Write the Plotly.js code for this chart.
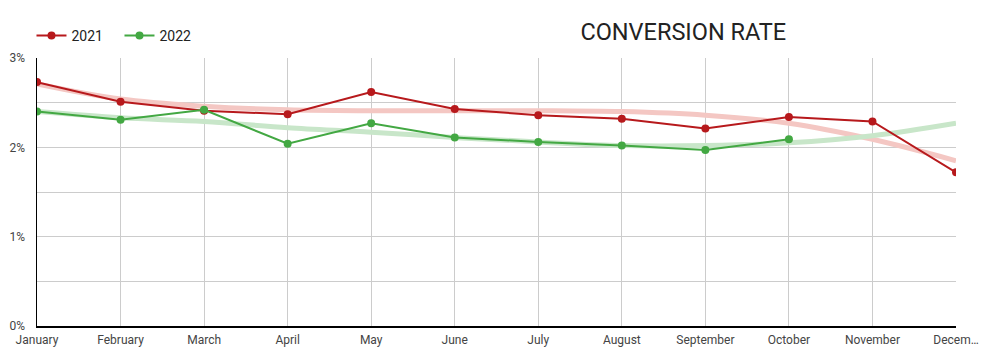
<!DOCTYPE html>
<html><head><meta charset="utf-8">
<script src="https://cdn.plot.ly/plotly-3.0.1.min.js"></script>
<style>body{margin:0;background:#fff}#c{width:986px;height:354px}</style>
</head><body><div id="c"></div>
<script>
const months = ["January","February","March","April","May","June","July","August","September","October","November","December"];
const monthLabels = ["January","February","March","April","May","June","July","August","September","October","November","Decem…"];
const rate2021 = [0.0273,0.0251,0.0241,0.0237,0.0262,0.0243,0.0236,0.0232,0.0221,0.0234,0.0229,0.0172];
const rate2022 = [0.0240,0.0231,0.0242,0.0204,0.0227,0.0211,0.0206,0.0202,0.0197,0.0209,null,null];
const trend2021 = [0.0271,0.0254,0.0246,0.0242,0.0241,0.0241,0.0241,0.0240,0.0236,0.0227,0.0209,0.0185];
const trend2022 = [0.0240,0.0233,0.0229,0.0222,0.0217,0.0211,0.0206,0.0202,0.0202,0.0205,0.0213,0.0227];
const yTicks = [0,0.01,0.02,0.03];
const yTickText = ["0%","1%","2%","3%"];

const red = "#b7191c", green = "#43a843";
const traces = [
  {x:months,y:trend2021,mode:"lines",line:{color:"#f4c7c3",width:5,shape:"spline"},showlegend:false,hoverinfo:"skip"},
  {x:months,y:trend2022,mode:"lines",line:{color:"#c8e6c9",width:5,shape:"spline"},showlegend:false,hoverinfo:"skip"},
  {x:months,y:rate2021,name:"2021",mode:"lines+markers",line:{color:red,width:2},marker:{color:red,size:8}},
  {x:months,y:rate2022,name:"2022",mode:"lines+markers",line:{color:green,width:2},marker:{color:green,size:8}}
];
const layout = {
  width:986,height:354,
  margin:{l:37,r:30,t:58,b:28},
  paper_bgcolor:"#fff",plot_bgcolor:"#fff",
  font:{family:"Roboto, sans-serif",color:"#444",size:12},
  title:{text:"CONVERSION RATE",font:{family:"Roboto, sans-serif",size:23.5,color:"#222"},x:0.693,xanchor:"center",y:0.91,yanchor:"middle"},
  showlegend:true,
  legend:{orientation:"h",x:-0.006,xanchor:"left",y:1.082,yanchor:"middle",font:{size:14,color:"#222"},bgcolor:"rgba(0,0,0,0)",itemwidth:30,entrywidth:43,entrywidthmode:"pixels"},
  xaxis:{type:"category",range:[0,11],tickvals:months,ticktext:monthLabels,showgrid:true,gridcolor:"#ccc",gridwidth:1,
         showline:true,linecolor:"#000",linewidth:1.5,zeroline:false,ticks:"",ticklabelstandoff:2,automargin:false,fixedrange:true},
  yaxis:{range:[0,0.03],tickvals:yTicks,ticktext:yTickText,showgrid:true,gridcolor:"#ccc",gridwidth:1,
         minor:{dtick:0.005,showgrid:true,gridcolor:"#ccc",gridwidth:1,ticks:""},
         showline:true,linecolor:"#000",linewidth:1.5,zeroline:false,ticks:"",ticklabelstandoff:8,automargin:false,fixedrange:true},
  hovermode:false
};
Plotly.newPlot("c",traces,layout,{displayModeBar:false,staticPlot:true});
</script></body></html>
